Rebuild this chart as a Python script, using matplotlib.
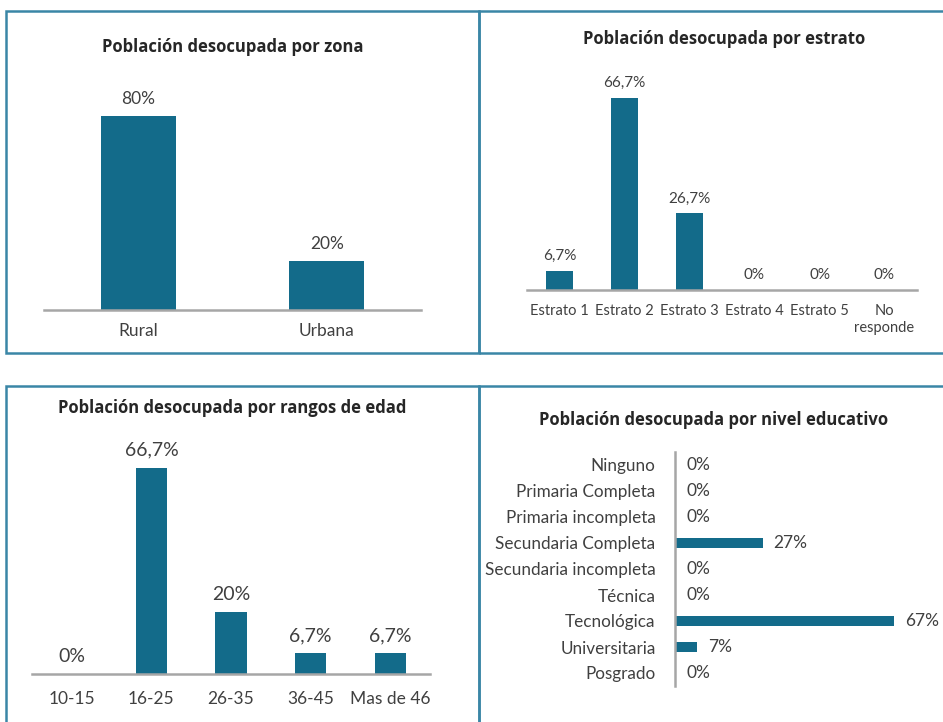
import matplotlib.pyplot as plt
from matplotlib.patches import Rectangle

# data
zona_cats = ["Rural", "Urbana"]
zona_vals = [80, 20]

estrato_cats = ["Estrato 1", "Estrato 2", "Estrato 3", "Estrato 4", "Estrato 5", "No\nresponde"]
estrato_vals = [6.7, 66.7, 26.7, 0, 0, 0]

edad_cats = ["10-15", "16-25", "26-35", "36-45", "Mas de 46"]
edad_vals = [0, 66.7, 20, 6.7, 6.7]

edu_cats = ["Ninguno", "Primaria Completa", "Primaria incompleta", "Secundaria Completa",
            "Secundaria incompleta", "Técnica", "Tecnológica", "Universitaria", "Posgrado"]
edu_vals = [0, 0, 0, 26.7, 0, 0, 66.7, 6.7, 0]

BAR = "#136b8a"
TXT = "#404040"
TITLE = "#262626"
AXIS = "#a6a6a6"
BORDER = "#3a86a6"

plt.rcParams['font.family'] = ['Lato', 'DejaVu Sans']
TFONT = ['Open Sans', 'DejaVu Sans']

W, H = 943, 722
fig = plt.figure(figsize=(W / 100, H / 100), dpi=100)


def px_axes(x0, y0, x1, y1):
    # pixel box (top-left origin) -> figure axes
    return fig.add_axes([x0 / W, 1 - y1 / H, (x1 - x0) / W, (y1 - y0) / H])


def fmt(v, dec=True):
    if not dec or float(v).is_integer():
        return "%d%%" % round(v)
    return ("%.1f%%" % v).replace(".", ",")


def clean(ax):
    for s in ["top", "right", "left"]:
        ax.spines[s].set_visible(False)
    ax.spines["bottom"].set_color(AXIS)
    ax.spines["bottom"].set_linewidth(1.8)
    ax.set_yticks([])
    ax.tick_params(axis="x", length=0, colors=TXT)


def vbars(ax, cats, vals, width, ymax, fs, vfs, pad, off):
    x = range(len(cats))
    ax.bar(x, vals, width=width, color=BAR)
    ax.set_xlim(-0.5, len(cats) - 0.5)
    ax.set_ylim(0, ymax)
    ax.set_xticks(list(x))
    ax.set_xticklabels(cats, fontsize=fs, linespacing=1.3)
    ax.tick_params(axis="x", pad=pad)
    for i, v in enumerate(vals):
        ax.annotate(fmt(v), (i, v), xytext=(0, off), textcoords="offset points",
                    ha="center", va="bottom", fontsize=vfs, color=TXT)
    clean(ax)


def title(x, y, s):
    fig.text(x / W, 1 - y / H, s, ha="center", va="center", fontsize=12,
             fontweight="bold", color=TITLE, family=TFONT)


# borders
for (x0, y0, x1, y1) in [(6, 11, 479, 353), (479, 11, 960, 353),
                         (6, 386, 479, 740), (479, 386, 960, 740)]:
    fig.add_artist(Rectangle((x0 / W, 1 - y1 / H), (x1 - x0) / W, (y1 - y0) / H,
                             transform=fig.transFigure, fill=False,
                             edgecolor=BORDER, linewidth=1.8))

# zona
ax1 = px_axes(44, 310 - 90 * 2.43, 421, 310)
vbars(ax1, zona_cats, zona_vals, 0.4, 90, 12.5, 12.5, 9, 6.5)
title(233, 47, "Población desocupada por zona")

# estrato
ax2 = px_axes(527, 290 - 75 * 2.88, 917, 290)
vbars(ax2, estrato_cats, estrato_vals, 0.41, 75, 10.5, 11, 10, 5.5)
title(724, 39, "Población desocupada por estrato")

# edad
ax3 = px_axes(32, 674 - 70 * 3.09, 430, 674)
vbars(ax3, edad_cats, edad_vals, 0.39, 70, 12.5, 14, 12, 6.5)
title(232, 408, "Población desocupada por rangos de edad")

# nivel educativo
ax4 = px_axes(675, 452, 930, 686)
y = range(len(edu_cats))
ax4.barh(y, edu_vals, height=0.37, color=BAR)
ax4.set_ylim(len(edu_cats) - 0.5, -0.5)
ax4.set_xlim(0, 255 / 3.28)
ax4.set_yticks(list(y))
ax4.set_yticklabels(edu_cats, fontsize=12.3)
ax4.tick_params(axis="y", length=0, colors=TXT, pad=14)
ax4.set_xticks([])
for s in ["top", "right", "bottom"]:
    ax4.spines[s].set_visible(False)
ax4.spines["left"].set_color(AXIS)
ax4.spines["left"].set_linewidth(1.8)
for i, v in enumerate(edu_vals):
    ax4.annotate(fmt(v, dec=False), (v, i), xytext=(8, 0), textcoords="offset points",
                 ha="left", va="center", fontsize=12.5, color=TXT)
title(714, 420, "Población desocupada por nivel educativo")

plt.savefig("out.png", dpi=100)
